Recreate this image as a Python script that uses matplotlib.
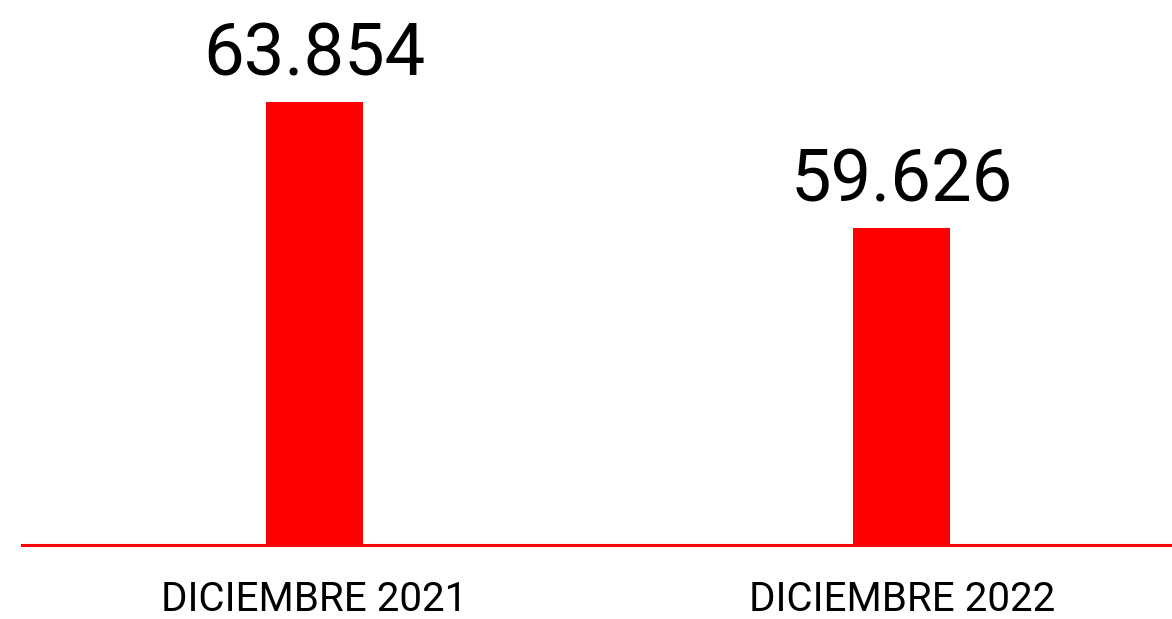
import matplotlib.pyplot as plt

periodos = ['DICIEMBRE 2021', 'DICIEMBRE 2022']
valores = [63854, 59626]
etiquetas = ['63.854', '59.626']

plt.rcParams['font.family'] = ['Roboto', 'DejaVu Sans']

fig = plt.figure(figsize=(11.72, 6.19), dpi=100)
ax = fig.add_axes([22 / 1172, 74 / 619, 1150 / 1172, 545 / 619])

x = [0, 1]
ax.bar(x, valores, width=0.165, color='#ff0000', zorder=2)
ax.set_xlim(-0.497, 1.46)
ax.set_ylim(49000, 67280)

for xi, v, t in zip(x, valores, etiquetas):
    ax.annotate(t, (xi, v), xytext=(0, 19.5), textcoords='offset points',
                ha='center', va='baseline', fontsize=52, color='black')

for s in ['top', 'left', 'right']:
    ax.spines[s].set_visible(False)
ax.spines['bottom'].set_color('#ff0000')
ax.spines['bottom'].set_linewidth(2.2)
ax.set_yticks([])
ax.set_xticks(x)
ax.set_xticklabels(periodos, fontsize=29)
ax.tick_params(axis='x', length=0, pad=25)

fig.savefig('out.png', dpi=100)
